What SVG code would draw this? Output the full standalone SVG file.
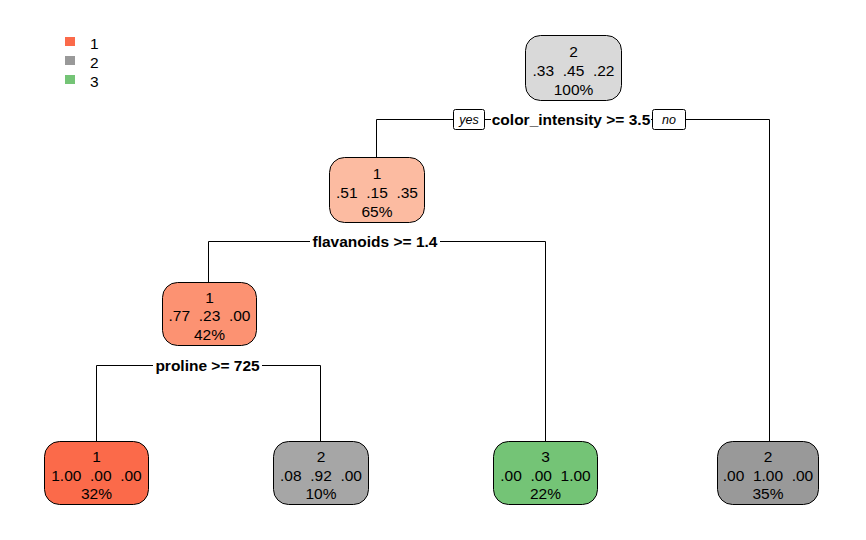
<svg xmlns="http://www.w3.org/2000/svg" width="866" height="540" viewBox="0 0 866 540">
<style>
.node rect{stroke:#000;stroke-width:1}
.t{font-family:"Liberation Sans",Arial,sans-serif;font-size:15.5px;fill:#000;text-anchor:middle;white-space:pre}
.s{font-family:"Liberation Sans",Arial,sans-serif;font-size:15.5px;font-weight:bold;fill:#000;text-anchor:middle}
.yn{font-family:"Liberation Sans",Arial,sans-serif;font-size:12.5px;font-style:italic;fill:#000;text-anchor:middle}
.lg{font-family:"Liberation Sans",Arial,sans-serif;font-size:15.5px;fill:#000}
.bg{fill:#fff}
.ynb{fill:#fff;stroke:#000;stroke-width:1}
#connectors path{fill:none;stroke:#000;stroke-width:1}
</style>
<rect width="866" height="540" fill="#fff"/>
<g id="legend">
<rect x="65" y="37" width="10" height="9" fill="#FB6A4A"/>
<rect x="65" y="56" width="10" height="9" fill="#999999"/>
<rect x="65" y="75" width="10" height="9" fill="#74C476"/>
<text class="lg" x="90" y="49">1</text>
<text class="lg" x="90" y="68">2</text>
<text class="lg" x="90" y="87">3</text>
</g>
<g id="connectors">
<path d="M376.5,157 V119.5 H769.5 V441"/>
<path d="M208.5,282 V241.5 H545.5 V441"/>
<path d="M96.5,441 V365.5 H320.5 V441"/>
</g>
<g id="split-labels">
<rect class="bg" x="491" y="110" width="160" height="19"/>
<text class="s" x="571" y="124.5">color_intensity &gt;= 3.5</text>
<rect class="ynb" x="453.5" y="109.5" width="31" height="20" rx="2"/>
<text class="yn" x="469" y="124">yes</text>
<rect class="ynb" x="652.5" y="109.5" width="33" height="20" rx="2"/>
<text class="yn" x="669" y="124">no</text>
<rect class="bg" x="310" y="232" width="130" height="19"/>
<text class="s" x="375" y="247">flavanoids &gt;= 1.4</text>
<rect class="bg" x="153" y="356" width="109" height="19"/>
<text class="s" x="207.5" y="371">proline &gt;= 725</text>
</g>
<g id="node1" class="node">
<rect x="525.5" y="35.5" width="96" height="65" rx="15" fill="#D9D9D9"/>
<text class="t" x="573.5" y="57">2</text>
<text class="t" x="573.5" y="76">.33  .45  .22</text>
<text class="t" x="573.5" y="94.5">100%</text>
</g>
<g id="node2" class="node">
<rect x="329.5" y="157.5" width="95" height="65" rx="15" fill="#FCBBA1"/>
<text class="t" x="377" y="179">1</text>
<text class="t" x="377" y="198">.51  .15  .35</text>
<text class="t" x="377" y="216.5">65%</text>
</g>
<g id="node4" class="node">
<rect x="162.5" y="282.5" width="94" height="63" rx="15" fill="#FC9272"/>
<text class="t" x="209.5" y="302.5">1</text>
<text class="t" x="209.5" y="321">.77  .23  .00</text>
<text class="t" x="209.5" y="339.5">42%</text>
</g>
<g id="node8" class="node">
<rect x="44.5" y="441.5" width="104" height="63" rx="15" fill="#FB6A4A"/>
<text class="t" x="96.5" y="462">1</text>
<text class="t" x="96.5" y="480.5">1.00  .00  .00</text>
<text class="t" x="96.5" y="498.5">32%</text>
</g>
<g id="node9" class="node">
<rect x="273.5" y="441.5" width="95" height="63" rx="15" fill="#A6A6A6"/>
<text class="t" x="321" y="462">2</text>
<text class="t" x="321" y="480.5">.08  .92  .00</text>
<text class="t" x="321" y="498.5">10%</text>
</g>
<g id="node5" class="node">
<rect x="493.5" y="441.5" width="104" height="63" rx="15" fill="#74C476"/>
<text class="t" x="545.5" y="462">3</text>
<text class="t" x="545.5" y="480.5">.00  .00  1.00</text>
<text class="t" x="545.5" y="498.5">22%</text>
</g>
<g id="node3" class="node">
<rect x="717.5" y="441.5" width="101" height="63" rx="15" fill="#999999"/>
<text class="t" x="768" y="462">2</text>
<text class="t" x="768" y="480.5">.00  1.00  .00</text>
<text class="t" x="768" y="498.5">35%</text>
</g>
</svg>
